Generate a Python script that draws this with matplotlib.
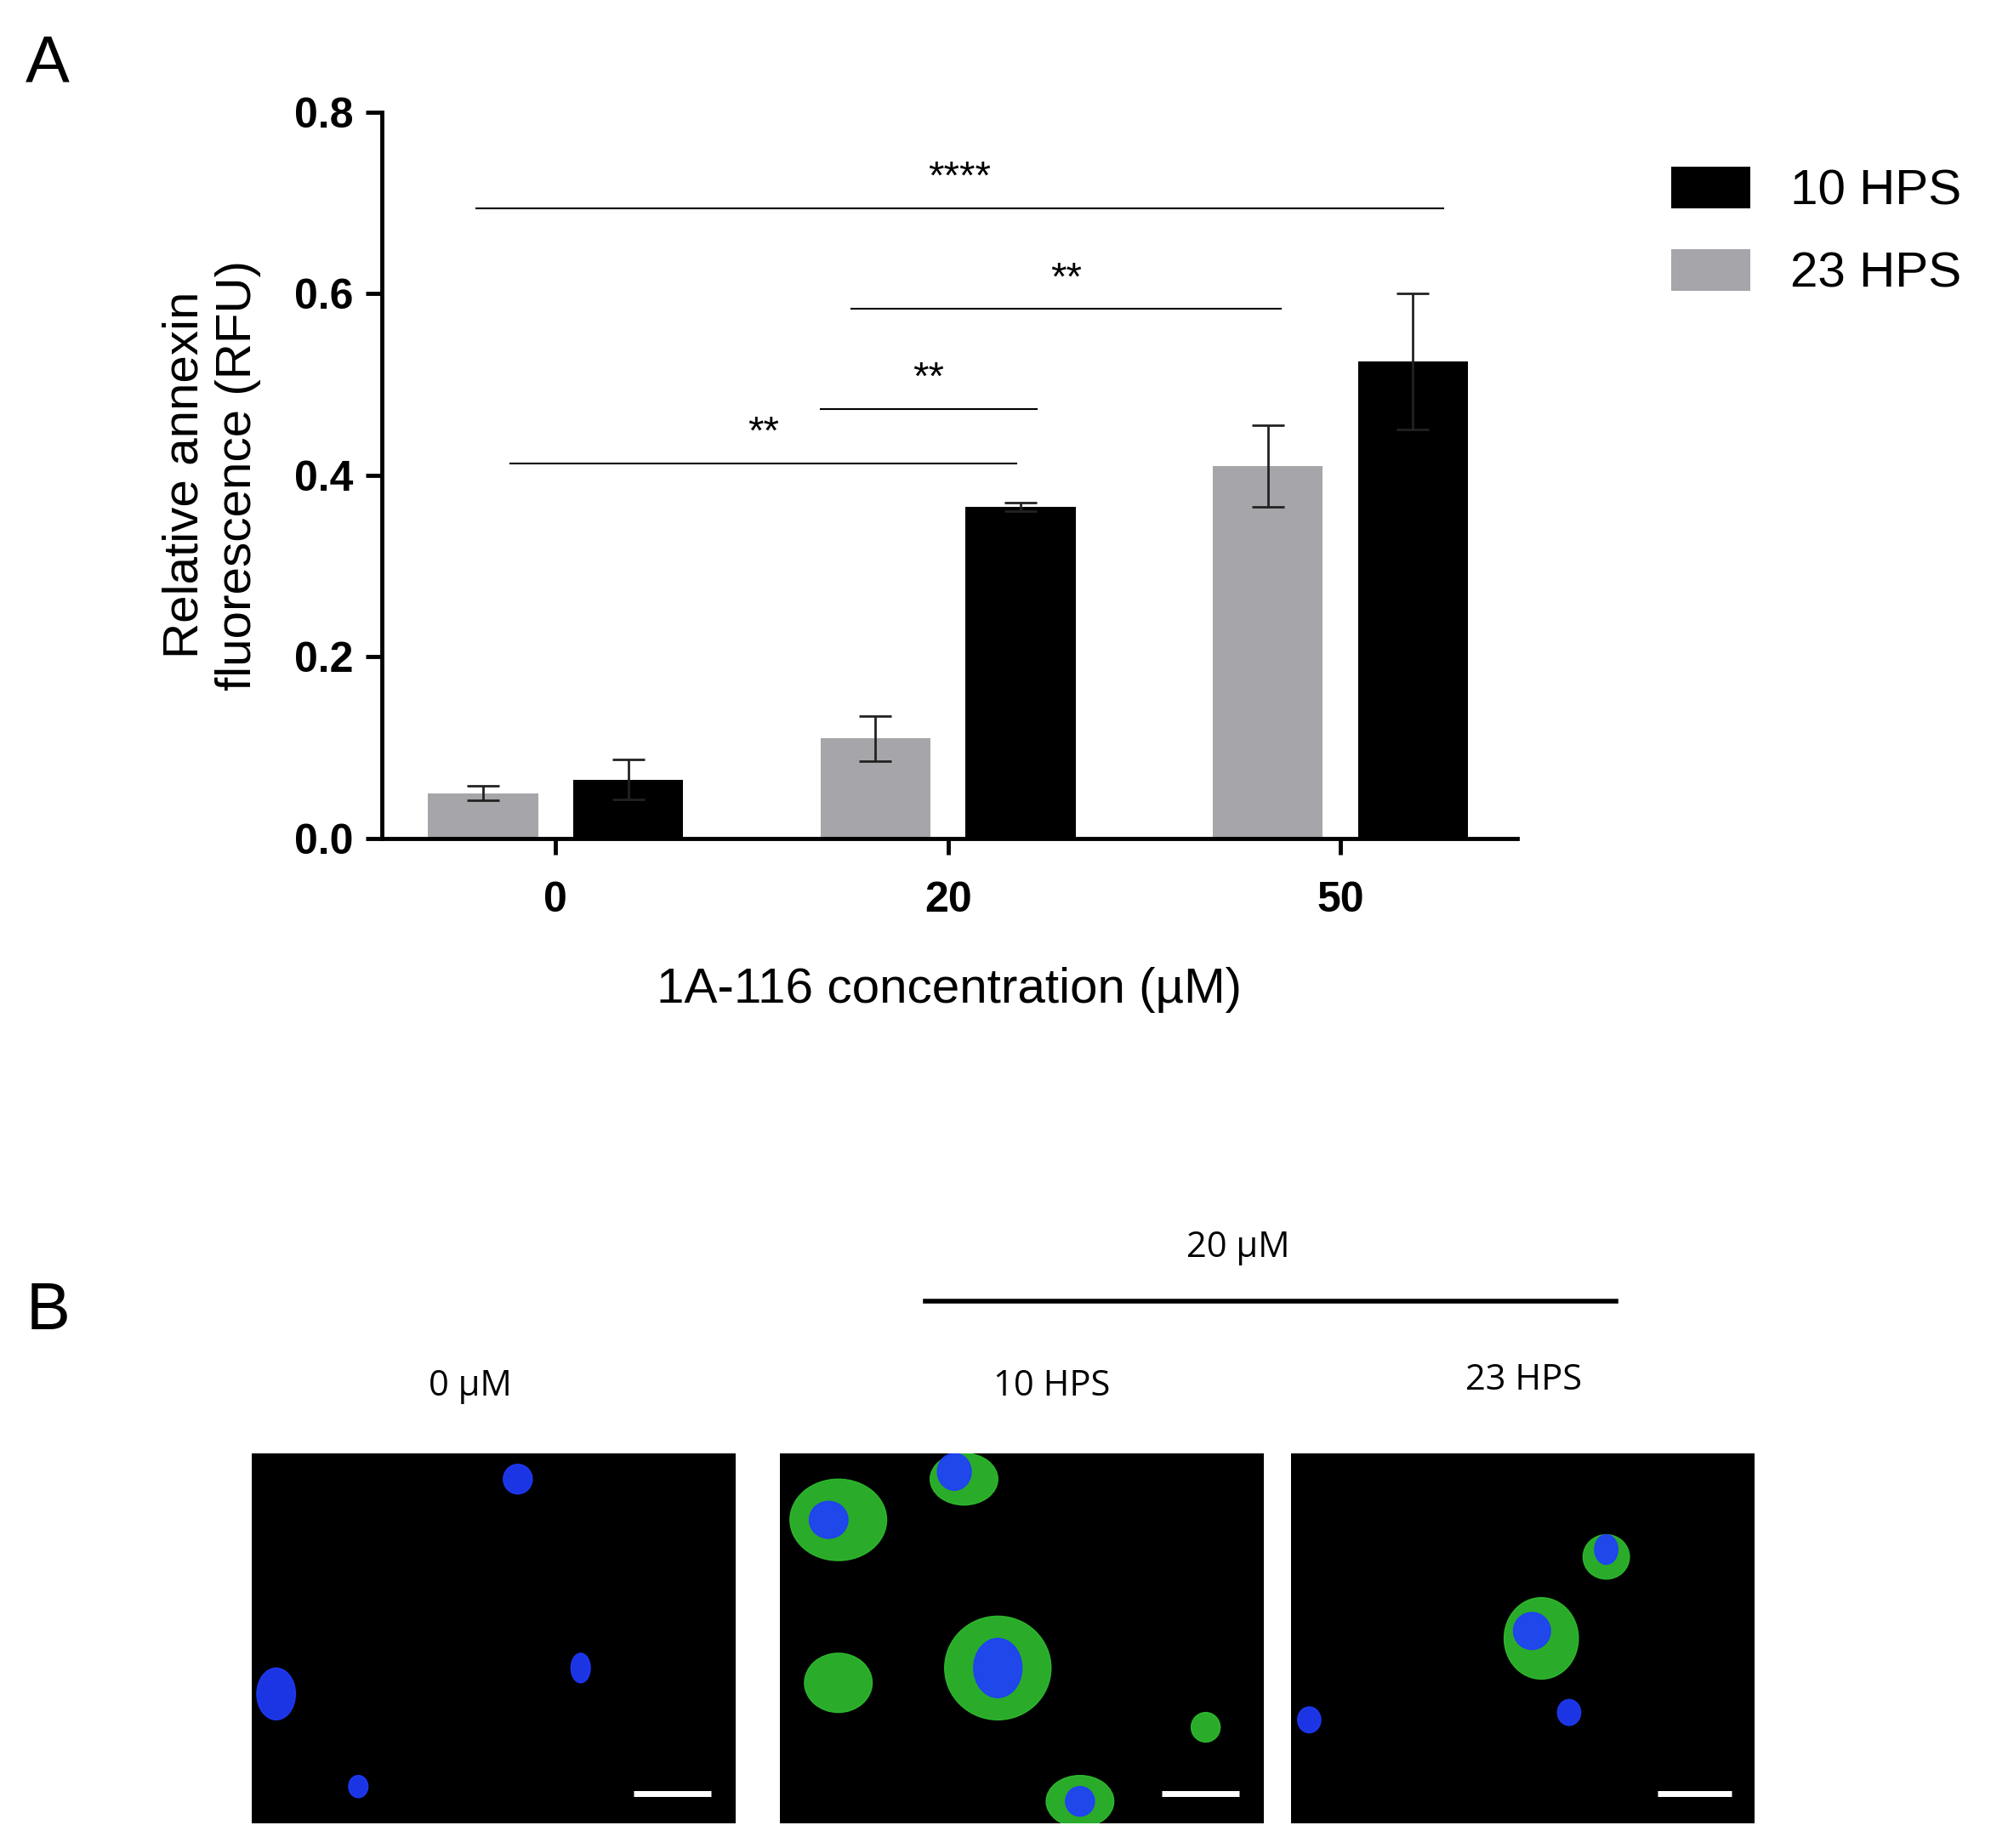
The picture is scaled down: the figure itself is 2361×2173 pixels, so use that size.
import matplotlib
matplotlib.use("Agg")
import matplotlib.pyplot as plt
from matplotlib.patches import Ellipse

plt.rcParams['font.family'] = ['Liberation Sans', 'DejaVu Sans']

categories = ["0", "20", "50"]
hps23 = [0.050, 0.110, 0.410]
hps23_err = [0.008, 0.025, 0.045]
hps10 = [0.065, 0.365, 0.525]
hps10_err = [0.022, 0.005, 0.075]
sig_labels = ["****", "**", "**", "**"]
sig_y = [0.694, 0.583, 0.473, 0.413]
sig_x0 = [-0.203, 0.754, 0.675, -0.115]
sig_x1 = [2.262, 1.849, 1.226, 1.174]

W, H = 1562, 1437
fig = plt.figure(figsize=(23.61, 21.73), dpi=100)

def fx(px): return px / W
def fy(py): return 1 - py / H

ax = fig.add_axes([fx(297), fy(652), fx(1180) - fx(297), fy(87) - fy(652)])
x = list(range(len(categories)))
off, w = 0.185, 0.28
ax.bar([i - off for i in x], hps23, w, yerr=hps23_err, color="#a6a5aa",
       capsize=14, error_kw=dict(lw=2, capthick=2, ecolor="#222"), label="23 HPS")
ax.bar([i + off for i in x], hps10, w, yerr=hps10_err, color="black",
       capsize=14, error_kw=dict(lw=2, capthick=2, ecolor="#222"), label="10 HPS")
ax.set_xlim(-0.443, 2.45)
ax.set_ylim(0, 0.8)
ax.set_yticks([0, 0.2, 0.4, 0.6, 0.8])
ax.set_yticklabels(["0.0", "0.2", "0.4", "0.6", "0.8"])
ax.set_xticks(x)
ax.set_xticklabels(categories)
for s in ["top", "right"]:
    ax.spines[s].set_visible(False)
for s in ["left", "bottom"]:
    ax.spines[s].set_linewidth(3.5)
ax.tick_params(width=3.5, length=14, labelsize=36, pad=10)
for t in ax.get_xticklabels() + ax.get_yticklabels():
    t.set_fontweight("bold")
ax.tick_params(axis="x", pad=22)
ax.set_xlabel("1A-116 concentration (µM)", fontsize=42, labelpad=40)
ax.set_ylabel("Relative annexin\nfluorescence (RFU)", fontsize=42, labelpad=28)
for lab, y, a, b in zip(sig_labels, sig_y, sig_x0, sig_x1):
    ax.plot([a, b], [y, y], color="black", lw=1.5)
    ax.text((a + b) / 2, y + 0.012, lab, ha="center", va="bottom", fontsize=34)

h, l = ax.get_legend_handles_labels()
fig.legend(h[::-1], l[::-1], loc="upper left", bbox_to_anchor=(fx(1265), fy(95)),
           frameon=False, fontsize=42, handlelength=1.6, handleheight=0.9,
           labelspacing=0.7)

fig.text(fx(20), fy(50), "A", fontsize=56, va="center")
fig.text(fx(20), fy(1020), "B", fontsize=56, va="center")

# Panel B
panels = [(196, 572), (607, 983), (1004, 1365)]
titles = ["0 µM", "10 HPS", "23 HPS"]
title_pos = [(366, 1078), (818, 1078), (1185, 1073)]
# cells: (panel, x_frac, y_frac, w_frac, h_frac, color)
cells = [
    (0, 0.55, 0.93, 0.06, 0.08, "#1f3cff"), (0, 0.68, 0.42, 0.04, 0.08, "#1f3cff"),
    (0, 0.05, 0.35, 0.08, 0.14, "#1f3cff"), (0, 0.22, 0.10, 0.04, 0.06, "#1f3cff"),
    (1, 0.12, 0.82, 0.20, 0.22, "#2fbf2f"), (1, 0.10, 0.82, 0.08, 0.10, "#1f3cff"),
    (1, 0.38, 0.93, 0.14, 0.14, "#2fbf2f"), (1, 0.36, 0.95, 0.07, 0.10, "#1f3cff"),
    (1, 0.12, 0.38, 0.14, 0.16, "#2fbf2f"), (1, 0.45, 0.42, 0.22, 0.28, "#2fbf2f"),
    (1, 0.45, 0.42, 0.10, 0.16, "#1f3cff"), (1, 0.62, 0.06, 0.14, 0.14, "#2fbf2f"),
    (1, 0.62, 0.06, 0.06, 0.08, "#1f3cff"), (1, 0.88, 0.26, 0.06, 0.08, "#2fbf2f"),
    (2, 0.54, 0.50, 0.16, 0.22, "#2fbf2f"), (2, 0.52, 0.52, 0.08, 0.10, "#1f3cff"),
    (2, 0.68, 0.72, 0.10, 0.12, "#2fbf2f"), (2, 0.68, 0.74, 0.05, 0.08, "#1f3cff"),
    (2, 0.60, 0.30, 0.05, 0.07, "#1f3cff"), (2, 0.04, 0.28, 0.05, 0.07, "#1f3cff"),
]
for i, (a, b) in enumerate(panels):
    pax = fig.add_axes([fx(a), fy(1418), fx(b) - fx(a), fy(1130) - fy(1418)])
    pax.set_facecolor("black")
    pax.set_xlim(0, 1); pax.set_ylim(0, 1)
    pax.set_xticks([]); pax.set_yticks([])
    for s in pax.spines.values():
        s.set_visible(False)
    for c in cells:
        if c[0] == i:
            pax.add_patch(Ellipse((c[1], c[2]), c[3], c[4], color=c[5], alpha=0.9))
    pax.plot([0.79, 0.95], [0.08, 0.08], color="white", lw=5, solid_capstyle="butt")
    tx, ty = title_pos[i]
    fig.text(fx(tx), fy(ty), titles[i], ha="center", va="center", fontsize=30,
             family=["Open Sans", "DejaVu Sans"])
fig.text(fx(963), fy(970), "20 µM", ha="center", va="center", fontsize=30,
         family=["Open Sans", "DejaVu Sans"])
fig.add_artist(plt.Line2D([fx(720), fx(1257)], [fy(1012), fy(1012)], color="black", lw=4))

fig.savefig("out.png", dpi=100)
